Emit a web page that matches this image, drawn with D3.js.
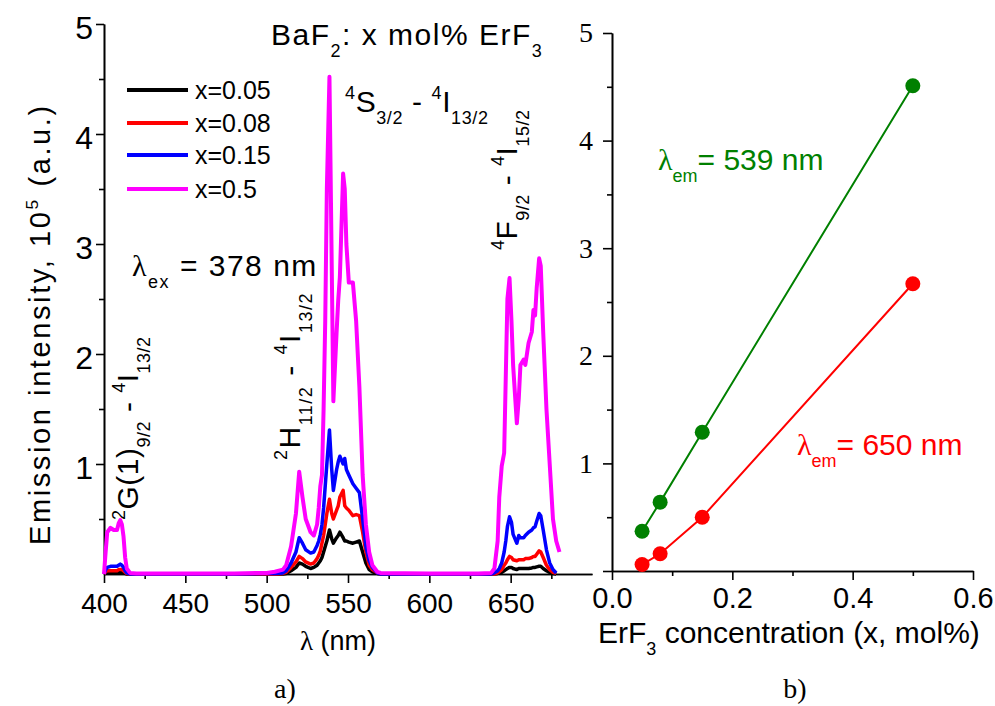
<!DOCTYPE html>
<html>
<head>
<meta charset="utf-8">
<script src="https://cdn.jsdelivr.net/npm/d3@7"></script>
<style>
  body { margin: 0; background: #fff; }
  svg { display: block; }
</style>
</head>
<body>
<div id="container"></div>
<script>
// emission spectra (panel a), intensity in 10^5 a.u.
const lambda = [400,401,402,404,406,408,409,410,411,412,413,414,416,420,450,480,500,505,510,512,
  515,518,520,522,524,527,529,531,532,533,534,535,536,537,538.6,540,541,543,544,545,
  547,548,549,550.5,553,555,557,559,561,563,565,568,570,600,630,638,640,642,643,644.5,
  646,647,648,649.3,650.5,651.5,653.8,655,656,658,659,661,663,664,665,666,667.5,668.5,670,672,
  674,676,678,680]

const int005 = [0,0.01,0.01,0.01,0.01,0.01,0.015,0.015,0.01,0.01,0.005,0,0,0,0,0,0,0,0,0.005,
  0.03,0.06,0.1,0.09,0.07,0.05,0.06,0.08,0.1,0.12,0.15,0.2,0.25,0.3,0.4,0.32,0.28,0.33,0.35,0.38,
  0.33,0.3,0.3,0.29,0.28,0.29,0.3,0.2,0.1,0.04,0.02,0.005,0,0,0,0,0,0.005,0.01,0.015,
  0.03,0.04,0.05,0.06,0.06,0.05,0.04,0.05,0.05,0.05,0.05,0.05,0.055,0.06,0.06,0.065,0.07,0.07,0.05,0.03,
  0.015,0.005,0,null]

const int008 = [0,0.02,0.03,0.03,0.03,0.03,0.04,0.04,0.04,0.03,0.015,0.005,0,0,0,0,0,0,0.005,0.015,
  0.06,0.11,0.16,0.14,0.11,0.09,0.1,0.14,0.17,0.21,0.28,0.35,0.45,0.55,0.68,0.55,0.5,0.58,0.62,0.7,
  0.76,0.62,0.6,0.58,0.53,0.54,0.53,0.38,0.2,0.08,0.04,0.01,0,0,0,0,0,0.01,0.02,0.04,
  0.08,0.1,0.13,0.16,0.15,0.13,0.12,0.13,0.13,0.13,0.14,0.14,0.15,0.16,0.16,0.18,0.21,0.2,0.15,0.08,
  0.04,0.015,0.005,null]

const int015 = [0,0.04,0.06,0.07,0.07,0.07,0.08,0.09,0.08,0.06,0.03,0.01,0,0,0,0,0.005,0.005,0.01,0.03,
  0.1,0.2,0.33,0.28,0.22,0.19,0.2,0.26,0.3,0.36,0.45,0.6,0.8,1.0,1.31,0.95,0.76,0.95,1.02,1.07,
  1.0,1.05,0.95,0.9,0.82,0.78,0.74,0.5,0.25,0.12,0.06,0.01,0,0,0,0,0.01,0.03,0.05,0.1,
  0.2,0.3,0.43,0.52,0.47,0.36,0.28,0.35,0.33,0.33,0.35,0.38,0.4,0.42,0.43,0.48,0.55,0.53,0.4,0.22,
  0.1,0.04,0.01,null]

const int05 = [0,0.2,0.38,0.42,0.4,0.4,0.46,0.49,0.45,0.34,0.15,0.05,0.01,0.005,0.005,0.005,0.01,0.02,0.04,0.08,
  0.25,0.55,0.93,0.7,0.5,0.38,0.35,0.45,0.6,0.8,0.9,1.5,2.3,3.5,4.52,2.8,1.57,2.2,2.49,2.7,
  3.64,3.5,3.0,2.65,2.65,2.3,1.7,0.9,0.45,0.2,0.08,0.02,0.01,0.005,0.005,0.01,0.05,0.3,0.7,0.98,
  1.1,1.8,2.5,2.69,2.3,1.9,1.37,1.6,1.9,1.95,1.9,2.1,2.2,2.4,2.35,2.6,2.87,2.8,2.2,1.5,
  1.0,0.5,0.3,0.2]

const seriesNames = ["x=0.05", "x=0.08", "x=0.15", "x=0.5"]
const seriesColors = ["#000000", "#ff0000", "#0000ff", "#ff00ff"]

// panel b
const conc = [0.05, 0.08, 0.15, 0.5]
const em539 = [0.37, 0.64, 1.29, 4.51]
const em650 = [0.06, 0.16, 0.50, 2.67]

const xTicksA = [400, 450, 500, 550, 600, 650]
const xMinorA = [425, 475, 525, 575, 625, 675]
const yTicksA = [1, 2, 3, 4, 5]
const yMinor = [0.5, 1.5, 2.5, 3.5, 4.5]
const xTicksB = [0, 0.2, 0.4, 0.6]
const xMinorB = [0.1, 0.3, 0.5]
const yTicksB = [0, 1, 2, 3, 4, 5]

const width = 995
const height = 706
const sans = '"Liberation Sans", Arial, sans-serif'
const serif = '"Liberation Serif", "Times New Roman", serif'

const svg = d3.select('#container').append('svg')
    .attr('width', width)
    .attr('height', height)
    .attr('font-family', sans)

// text with sub/superscripts: parts = [[text, kind]] kind 0 normal, 1 sub, 2 sup, 3 serif
function rich(g, x, y, parts, size, opts = {}) {
    const t = g.append('text').attr('font-size', size).attr('fill', opts.fill || '#000')
        .attr('font-family', sans)
    if (opts.rotate) t.attr('transform', `translate(${x},${y}) rotate(-90)`)
    else t.attr('x', x).attr('y', y)
    if (opts.spacing) t.attr('letter-spacing', opts.spacing)
    let cur = 0
    parts.forEach(([txt, kind]) => {
        const small = kind === 1 || kind === 2
        const off = kind === 1 ? size * 0.4 : kind === 2 ? -size * 0.42 : 0
        const ts = t.append('tspan')
            .attr('font-size', small ? size * 0.6 : size)
            .attr('dy', off - cur)
            .text(txt)
        if (kind === 3) ts.attr('font-family', serif)
        cur = off
    })
    return t
}

function styleAxis(g, size, family) {
    g.attr('font-family', family).attr('font-size', size)
    g.selectAll('path, line').attr('stroke', '#000').attr('stroke-width', 1.6)
    g.selectAll('text').attr('fill', '#000')
        .attr('font-family', family).attr('font-size', size)
        .style('font-size', size + 'px')
        .style('font-family', family)
}

// ---------- panel a ----------
const xA = d3.scaleLinear().domain([400, 700]).range([104, 592])
const yA = d3.scaleLinear().domain([0, 5]).range([574, 24])

const gxA = svg.append('g').attr('transform', 'translate(0,574)')
    .call(d3.axisBottom(xA).tickValues(xTicksA).tickSize(9).tickSizeOuter(0).tickPadding(10)
        .tickFormat(d3.format('d')))
svg.append('g').attr('transform', 'translate(0,574)')
    .call(d3.axisBottom(xA).tickValues(xMinorA).tickSize(5).tickSizeOuter(0).tickFormat(''))
    .call(g => styleAxis(g, 10, sans))
styleAxis(gxA, 28, sans)

const gyA = svg.append('g').attr('transform', 'translate(104,0)')
    .call(d3.axisLeft(yA).tickValues(yTicksA).tickSize(8).tickSizeOuter(0).tickPadding(3)
        .tickFormat(d3.format('d')))
svg.append('g').attr('transform', 'translate(104,0)')
    .call(d3.axisLeft(yA).tickValues(yMinor).tickSize(5).tickSizeOuter(0).tickFormat(''))
    .call(g => styleAxis(g, 10, sans))
styleAxis(gyA, 32, sans)
gyA.selectAll('text').attr('dy', '0.45em')

const lineA = d3.line()
    .defined(d => d[1] != null)
    .x(d => xA(d[0]))
    .y(d => yA(d[1]))

const allSeries = [int005, int008, int015, int05]
allSeries.forEach((vals, i) => {
    svg.append('path')
        .datum(lambda.map((l, j) => [l, vals[j]]))
        .attr('d', lineA)
        .attr('fill', 'none')
        .attr('stroke', seriesColors[i])
        .attr('stroke-width', i === 3 ? 4 : 3.5)
        .attr('stroke-linejoin', 'round')
})

// legend
const legY = [90, 123, 155, 189]
seriesNames.forEach((name, i) => {
    svg.append('line')
        .attr('x1', 127).attr('x2', 188)
        .attr('y1', legY[i]).attr('y2', legY[i])
        .attr('stroke', seriesColors[i]).attr('stroke-width', 4)
    svg.append('text').attr('x', 195).attr('y', legY[i] + 9)
        .attr('font-size', 25).text(name)
})

rich(svg, 271, 45, [['BaF', 0], ['2', 1], [': x mol% ErF', 0], ['3', 1]], 30, { spacing: 1.5 })
rich(svg, 345, 112, [['4', 2], ['S', 0], ['3/2', 1], [' - ', 0], ['4', 2], ['I', 0], ['13/2', 1]], 30, { spacing: 0.6 })
rich(svg, 132, 276, [['λ', 3], ['ex', 1], [' = 378 nm', 0]], 30, { spacing: 1.5 })

rich(svg, 138, 520, [['2', 2], ['G(1)', 0], ['9/2', 1], [' - ', 0], ['4', 2], ['I', 0], ['13/2', 1]], 30, { rotate: true, spacing: 0.5 })
rich(svg, 300, 460, [['2', 2], ['H', 0], ['11/2', 1], [' - ', 0], ['4', 2], ['I', 0], ['13/2', 1]], 30, { rotate: true, spacing: 1.5 })
rich(svg, 517, 250, [['4', 2], ['F', 0], ['9/2', 1], [' - ', 0], ['4', 2], ['I', 0], ['15/2', 1]], 30, { rotate: true, spacing: 0.5 })

// axis titles panel a
rich(svg, 50, 545, [['Emission intensity, 10', 0], ['5', 2], [' (a.u.)', 0]], 29, { rotate: true, spacing: 2.6 })
rich(svg, 300, 650, [['λ', 3], [' (nm)', 0]], 27)
svg.append('text').attr('x', 285).attr('y', 698).attr('text-anchor', 'middle')
    .attr('font-family', serif).attr('font-size', 28).text('a)')

// ---------- panel b ----------
const xB = d3.scaleLinear().domain([0, 0.6]).range([612, 973])
const yB = d3.scaleLinear().domain([0, 5]).range([571, 33])

const gxB = svg.append('g').attr('transform', 'translate(0,571)')
    .call(d3.axisBottom(xB).tickValues(xTicksB).tickSize(9).tickSizeOuter(0).tickPadding(7).tickFormat(d3.format('.1f')))
svg.append('g').attr('transform', 'translate(0,571)')
    .call(d3.axisBottom(xB).tickValues(xMinorB).tickSize(5).tickSizeOuter(0).tickFormat(''))
    .call(g => styleAxis(g, 10, sans))
styleAxis(gxB, 29, sans)

const gyB = svg.append('g').attr('transform', 'translate(612,0)')
    .call(d3.axisLeft(yB).tickValues(yTicksB).tickSize(9).tickSizeOuter(0).tickPadding(10)
        .tickFormat(d => d === 0 ? '' : d))
svg.append('g').attr('transform', 'translate(612,0)')
    .call(d3.axisLeft(yB).tickValues(yMinor).tickSize(5).tickSizeOuter(0).tickFormat(''))
    .call(g => styleAxis(g, 10, sans))
styleAxis(gyB, 28, serif)

const lineB = d3.line().x(d => xB(d[0])).y(d => yB(d[1]))
const pointSets = [
    { vals: em539, color: '#008000' },
    { vals: em650, color: '#ff0000' }
]
pointSets.forEach(s => {
    const pts = conc.map((c, i) => [c, s.vals[i]])
    svg.append('path').datum(pts).attr('d', lineB)
        .attr('fill', 'none').attr('stroke', s.color).attr('stroke-width', 2)
    svg.selectAll(null).data(pts).enter().append('circle')
        .attr('cx', d => xB(d[0])).attr('cy', d => yB(d[1]))
        .attr('r', 7.5).attr('fill', s.color)
})

rich(svg, 658, 170, [['λ', 3], ['em', 1], ['= 539 nm', 0]], 30, { fill: '#008000' })
rich(svg, 797, 455, [['λ', 3], ['em', 1], ['= 650 nm', 0]], 30, { fill: '#ff0000' })

rich(svg, 598, 643, [['ErF', 0], ['3', 1], [' concentration (x, mol%)', 0]], 30)
svg.append('text').attr('x', 795).attr('y', 698).attr('text-anchor', 'middle')
    .attr('font-family', serif).attr('font-size', 28).text('b)')
</script>
</body>
</html>
